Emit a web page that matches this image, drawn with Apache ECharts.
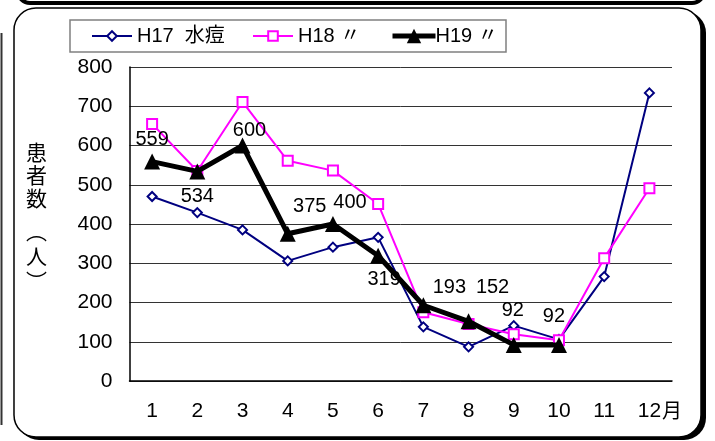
<!DOCTYPE html>
<html>
<head>
<meta charset="utf-8">
<script src="https://cdn.jsdelivr.net/npm/echarts@6/dist/echarts.min.js"></script>
<style>
html,body{margin:0;padding:0;background:#fff;}
#c{width:715px;height:441px;}
</style>
</head>
<body>
<div id="c"></div>
<script>
var months = ['1','2','3','4','5','6','7','8','9','10','11','12'];
var yTicks = [0,100,200,300,400,500,600,700,800];
var h17 = [470, 429, 385, 306, 341, 366, 138, 87, 141, 106, 266, 734];
var h18 = [655, 535, 711, 561, 536, 451, 175, 145, 119, 104, 313, 491];
var h19 = [559, 534, 600, 375, 400, 319, 193, 152, 92, 92, null, null];
var seriesNames = ['H17  水痘', 'H18 〃', 'H19 〃'];

// label placement styles for H19 points
var h19LabelPos = ['top','bottom','top','top','top','bottom','top','top','top','top'];
var h19LabelOff = [[0,0],[0,3],[7,7],[22,-5],[17,0],[6,2],[26,4],[24,-12],[-1,-12],[-5,-6]];

var font = 'Liberation Sans, Arial, sans-serif';
var legendFont = 'Liberation Sans, Arial, "Noto Sans CJK JP", sans-serif';
var h19Data = h19.map(function(v,i){
  if (v === null) return null;
  return {value: v, label: {show: true, position: h19LabelPos[i], offset: h19LabelOff[i]}};
});

var chart = echarts.init(document.getElementById('c'));
chart.setOption({
  animation: false,
  backgroundColor: '#fff',
  graphic: [
    {type:'rect', z:-10, shape:{x:18, y:-32, width:686, height:35, r:12}, style:{fill:'none', stroke:'#000', lineWidth:4}},
    {type:'line', z:-10, shape:{x1:1.5, y1:33, x2:1.5, y2:425}, style:{stroke:'#333', lineWidth:2}},
    {type:'rect', z:-10, shape:{x:17, y:11, width:689, height:429, r:22}, style:{fill:'#000'}},
    {type:'rect', z:-9, shape:{x:14, y:8, width:687, height:429, r:22}, style:{fill:'#fff', stroke:'#000', lineWidth:1.5}},
    {type:'rect', z:-8, shape:{x:70, y:20, width:436, height:32}, style:{fill:'#fff', stroke:'#808080', lineWidth:1.5}},
    {type:'text', z:5, left:26, top:141, style:{text:'患\n者\n数', font:'21px "Noto Sans CJK JP"', lineHeight:23, fill:'#000', align:'center'}},
    {type:'text', z:5, left:26, top:219, style:{text:'︵\n人\n︶', font:'21px "Noto Sans CJK JP"', lineHeight:25, fill:'#000', align:'center'}},
    {type:'text', z:5, left:662, top:400, style:{text:'月', font:'20px "Noto Sans CJK JP"', fill:'#000'}}
  ],
  legend: [
    {data:[{name:seriesNames[0]}], left:86, top:21, itemWidth:40, itemHeight:12, itemGap:0, textStyle:{fontFamily:legendFont, fontSize:20, color:'#000'}},
    {data:[{name:seriesNames[1]}], left:247, top:21, itemWidth:40, itemHeight:12, itemGap:0, textStyle:{fontFamily:legendFont, fontSize:20, color:'#000'}},
    {data:[{name:seriesNames[2], lineStyle:{width:5}}], left:385, top:21, itemWidth:43, itemHeight:18, itemGap:0, textStyle:{fontFamily:legendFont, fontSize:20, color:'#000', padding:[0,0,0,-5]}}
  ],
  grid: {left:129.5, right:43, top:67, bottom:60, containLabel:false},
  xAxis: {
    type:'category', data: months, boundaryGap:true,
    axisLine:{lineStyle:{color:'#000', width:1.5}},
    axisTick:{inside:true, length:7, lineStyle:{color:'#000'}},
    axisLabel:{color:'#000', fontSize:21, fontFamily:font, margin:20}
  },
  yAxis: {
    type:'value', min: yTicks[0], max: yTicks[yTicks.length-1], interval: 100,
    axisLine:{show:true, lineStyle:{color:'#000', width:1.5}},
    axisTick:{show:false},
    splitLine:{lineStyle:{color:'#333', width:1}},
    axisLabel:{color:'#000', fontSize:21, fontFamily:font, margin:17}
  },
  series: [
    {name: seriesNames[0], type:'line', data:h17, symbol:'diamond', symbolSize:9,
     lineStyle:{color:'#000080', width:2}, itemStyle:{color:'#fff', borderColor:'#000080', borderWidth:2}, z:3},
    {name: seriesNames[1], type:'line', data:h18, symbol:'rect', symbolSize:10,
     lineStyle:{color:'#ff00ff', width:2}, itemStyle:{color:'#fff', borderColor:'#ff00ff', borderWidth:2}, z:4},
    {name: seriesNames[2], type:'line', data:h19Data, symbol:'triangle', symbolSize:16,
     lineStyle:{color:'#000', width:5}, itemStyle:{color:'#000'}, z:5,
     label:{color:'#000', fontSize:20, fontFamily:font, distance:4}}
  ]
});
</script>
</body>
</html>
